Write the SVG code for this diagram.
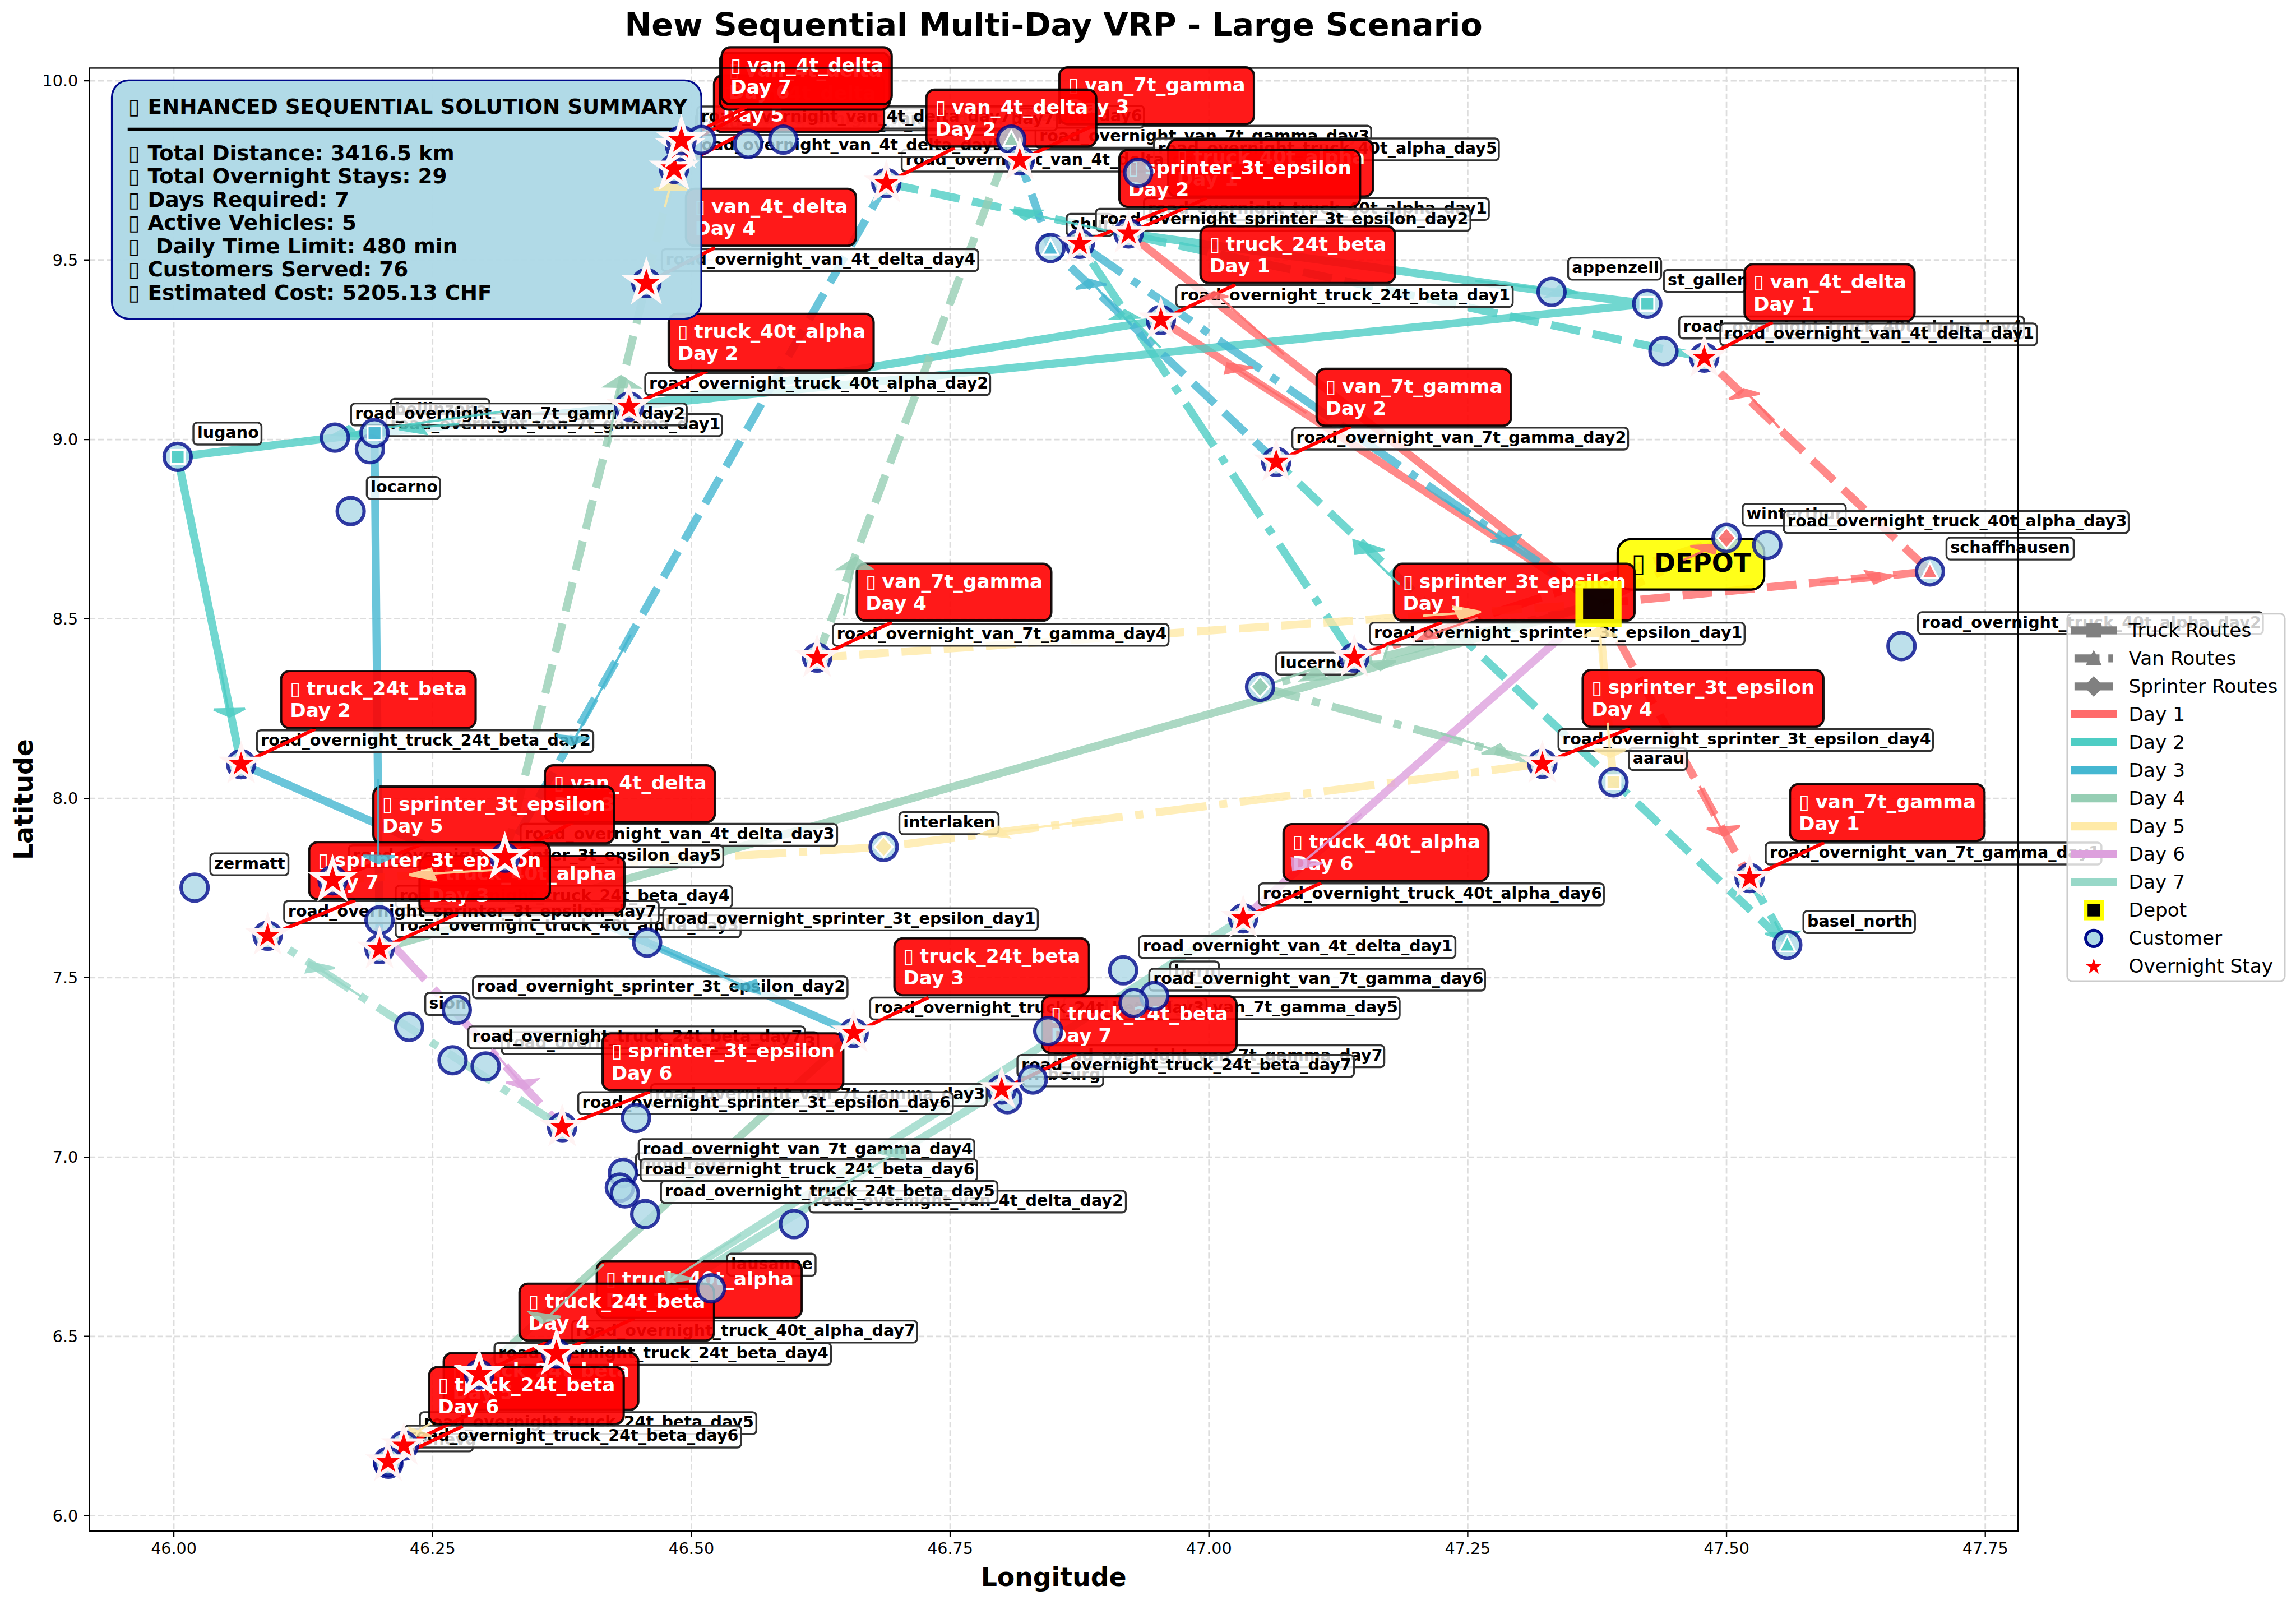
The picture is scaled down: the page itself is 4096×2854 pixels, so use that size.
<svg xmlns="http://www.w3.org/2000/svg" width="4096" height="2854" viewBox="0 0 4096 2854">
<style>
text{font-family:"DejaVu Sans","Liberation Sans",sans-serif}
.lt{font-weight:700;font-size:41.67px;fill:#000}
.lb{fill:#fff;fill-opacity:.8;stroke:#333;stroke-width:5}
.cb{fill:#f00;fill-opacity:.9;stroke:#000;stroke-width:6;stroke-opacity:.9}
.ct{font-weight:700;font-size:50px;fill:#fff}
.lk{stroke:#f00;stroke-width:9;fill:none}
.gr{stroke:#ddd;stroke-width:4;stroke-dasharray:15 7}
.tk{stroke:#000;stroke-width:3.4}
.tl{font-size:41.67px;fill:#000}
.rt{fill:none;stroke-opacity:.8;stroke-width:20.8;stroke-linejoin:round}
.dash{stroke-dasharray:77 33}
.dd{stroke-dasharray:133 33 21 33}
.d1{stroke:#FF6B6B}.d2{stroke:#4ECDC4}.d3{stroke:#45B7D1}.d4{stroke:#96CEB4}.d5{stroke:#FFEAA7}.d6{stroke:#DDA0DD}.d7{stroke:#98D8C8}
.f1{fill:#FF6B6B}.f2{fill:#4ECDC4}.f3{fill:#45B7D1}.f4{fill:#96CEB4}.f5{fill:#FFEAA7}.f6{fill:#DDA0DD}.f7{fill:#98D8C8}
.ar{stroke-width:6;opacity:.85;stroke-linejoin:miter}
.cu{fill:#add8e6;fill-opacity:.8;stroke:#000a8c;stroke-opacity:.8;stroke-width:9}
.mk{stroke:#fff;stroke-width:5;fill-opacity:.9}
.st{fill:#f00;stroke:#fff3f3;stroke-width:18;stroke-miterlimit:5;paint-order:stroke}
.st2{fill:#f00;stroke:#fff8f8;stroke-width:20;stroke-miterlimit:5;paint-order:stroke}
.su{font-weight:700;font-size:54.5px;fill:#000}
.lg{font-size:50px;fill:#000}
</style>
<defs>
<path id="star" class="st" d="M0-33 7.4-10.2 31.4-10.2 12 3.9 19.4 26.7 0 12.6-19.4 26.7-12 3.9-31.4-10.2-7.4-10.2Z"/>
<path id="star2" class="st2" d="M0-37 8.3-11.4 35.2-11.4 13.5 4.4 21.7 29.9 0 14.1-21.7 29.9-13.5 4.4-35.2-11.4-8.3-11.4Z"/>
<rect id="msq" x="-18" y="-18" width="36" height="36"/>
<path id="mtr" d="M0-23 21 17-21 17Z"/>
<path id="mdi" d="M0-27 24 0 0 27-24 0Z"/>
<circle id="cc" r="35" class="cu"/>
</defs>
<g transform="scale(0.68598)">
<rect width="5971" height="4161" fill="#fff"/>
<g id="grid">
<path class="gr" d="M452 177V3981M1125 177V3981M1798 177V3981M2471 177V3981M3144 177V3981M3817 177V3981M4490 177V3981M5163 177V3981M233 210H5248M233 676H5248M233 1143H5248M233 1609H5248M233 2076H5248M233 2542H5248M233 3009H5248M233 3475H5248M233 3941H5248"/>
</g>
<g id="connectors">
<path class="rt d1" d="M2935 607L4157 1570M3019 832L4157 1570"/>
<path class="rt d1 dash" d="M4157 1570L5019 1486L4432 930M4157 1570L4550 2283"/>
<path class="rt d1 dd" d="M4157 1570L4490 1399L3522 1710"/>
<path class="rt d2" d="M2935 607L4035 759L4284 790L1636 1057M3019 832L1636 1057L871 1138L462 1188L627 1987"/>
<path class="rt d2 dash" d="M4550 2283L4648 2457L3319 1201M4432 930L2305 476"/>
<path class="rt d2 dd" d="M3522 1710L2808 634"/>
<path class="rt d3" d="M1636 1057L974 1126L987 2468M627 1987L1683 2451L2220 2686"/>
<path class="rt d3 dash" d="M2305 476L1313 2230M3319 1201L2732 645L2652 417"/>
<path class="rt d3 dd" d="M2808 634L4157 1570"/>
<path class="rt d4" d="M987 2468L4157 1570M2220 2686L1246 3574"/>
<path class="rt d4 dash" d="M1313 2230L1681 736M2652 417L2630 363L2125 1710"/>
<path class="rt d4 dd" d="M4157 1570L3277 1786L4011 1986"/>
<path class="rt d5" d="M4157 1570L4196 2034M1246 3574L1050 3759"/>
<path class="rt d5 dash" d="M2125 1710L4157 1570M1681 736L1753 439"/>
<path class="rt d5 dd" d="M4011 1986L2298 2202L865 2289"/>
<path class="rt d6" d="M4157 1570L3233 2388M1050 3759L1009 3801"/>
<path class="rt d6 dd" d="M865 2289L1462 2931"/>
<path class="rt d6 dash" d="M1753 439L1769 381"/>
<path class="rt d7" d="M1009 3801L2605 2833M3233 2388L1447 3520"/>
<path class="rt d7 dd" d="M1462 2931L696 2433"/>
<path class="rt d7 dash" d="M1769 381L1772 365"/>
</g>
<g id="labels">
<g id="lbl-lugano"><rect class="lb" x="503" y="1099" width="177" height="57" rx="10"/><text class="lt" x="513" y="1139">lugano</text></g>
<g id="lbl-bellinzona"><rect class="lb" x="1016" y="1037" width="257" height="57" rx="10"/><text class="lt" x="1026" y="1077">bellinzona</text></g>
<g id="lbl-locarno"><rect class="lb" x="954" y="1240" width="190" height="57" rx="10"/><text class="lt" x="964" y="1280">locarno</text></g>
<g id="lbl-chur"><rect class="lb" x="2774" y="556" width="120" height="57" rx="10"/><text class="lt" x="2784" y="596">chur</text></g>
<g id="lbl-appenzell"><rect class="lb" x="4078" y="670" width="242" height="57" rx="10"/><text class="lt" x="4088" y="710">appenzell</text></g>
<g id="lbl-st_gallen"><rect class="lb" x="4327" y="702" width="213" height="57" rx="10"/><text class="lt" x="4337" y="742">st_gallen</text></g>
<g id="lbl-schaffhausen"><rect class="lb" x="5062" y="1398" width="331" height="57" rx="10"/><text class="lt" x="5072" y="1438">schaffhausen</text></g>
<g id="lbl-winterthur"><rect class="lb" x="4532" y="1310" width="268" height="57" rx="10"/><text class="lt" x="4542" y="1350">winterthur</text></g>
<g id="lbl-aarau"><rect class="lb" x="4236" y="1945" width="151" height="57" rx="10"/><text class="lt" x="4246" y="1985">aarau</text></g>
<g id="lbl-lucerne"><rect class="lb" x="3319" y="1697" width="211" height="57" rx="10"/><text class="lt" x="3329" y="1737">lucerne</text></g>
<g id="lbl-basel_north"><rect class="lb" x="4690" y="2369" width="290" height="57" rx="10"/><text class="lt" x="4700" y="2409">basel_north</text></g>
<g id="lbl-bern"><rect class="lb" x="3043" y="2500" width="127" height="57" rx="10"/><text class="lt" x="3053" y="2540">bern</text></g>
<g id="lbl-fribourg"><rect class="lb" x="2661" y="2768" width="208" height="57" rx="10"/><text class="lt" x="2671" y="2808">fribourg</text></g>
<g id="lbl-interlaken"><rect class="lb" x="2339" y="2112" width="258" height="57" rx="10"/><text class="lt" x="2349" y="2152">interlaken</text></g>
<g id="lbl-zermatt"><rect class="lb" x="547" y="2219" width="203" height="57" rx="10"/><text class="lt" x="557" y="2259">zermatt</text></g>
<g id="lbl-sion"><rect class="lb" x="1106" y="2582" width="115" height="57" rx="10"/><text class="lt" x="1116" y="2622">sion</text></g>
<g id="lbl-montreux"><rect class="lb" x="1654" y="2999" width="244" height="57" rx="10"/><text class="lt" x="1664" y="3039">montreux</text></g>
<g id="lbl-lausanne"><rect class="lb" x="1891" y="3260" width="230" height="57" rx="10"/><text class="lt" x="1901" y="3300">lausanne</text></g>
<g id="lbl-geneva"><rect class="lb" x="1058" y="3717" width="172" height="57" rx="10"/><text class="lt" x="1068" y="3757">geneva</text></g>
<rect class="lb" x="4367" y="823" width="897" height="57" rx="10"/><text class="lt" x="4377" y="863">road_overnight_truck_40t_alpha_day4</text>
<rect class="lb" x="4639" y="1329" width="897" height="57" rx="10"/><text class="lt" x="4649" y="1369">road_overnight_truck_40t_alpha_day3</text>
<rect class="lb" x="4988" y="1592" width="897" height="57" rx="10"/><text class="lt" x="4998" y="1632">road_overnight_truck_40t_alpha_day2</text>
<rect class="lb" x="1005" y="1077" width="873" height="57" rx="10"/><text class="lt" x="1015" y="1117">road_overnight_van_7t_gamma_day1</text>
<rect class="lb" x="913" y="1049" width="873" height="57" rx="10"/><text class="lt" x="923" y="1089">road_overnight_van_7t_gamma_day2</text>
<rect class="lb" x="4592" y="2191" width="873" height="57" rx="10"/><text class="lt" x="4602" y="2231">road_overnight_van_7t_gamma_day1</text>
<rect class="lb" x="3361" y="1112" width="873" height="57" rx="10"/><text class="lt" x="3371" y="1152">road_overnight_van_7t_gamma_day2</text>
<rect class="lb" x="2693" y="327" width="873" height="57" rx="10"/><text class="lt" x="2703" y="367">road_overnight_van_7t_gamma_day3</text>
<rect class="lb" x="1693" y="2819" width="873" height="57" rx="10"/><text class="lt" x="1703" y="2859">road_overnight_van_7t_gamma_day3</text>
<rect class="lb" x="1661" y="2962" width="873" height="57" rx="10"/><text class="lt" x="1671" y="3002">road_overnight_van_7t_gamma_day4</text>
<rect class="lb" x="2166" y="1622" width="873" height="57" rx="10"/><text class="lt" x="2176" y="1662">road_overnight_van_7t_gamma_day4</text>
<rect class="lb" x="2989" y="2519" width="873" height="57" rx="10"/><text class="lt" x="2999" y="2559">road_overnight_van_7t_gamma_day6</text>
<rect class="lb" x="2767" y="2593" width="873" height="57" rx="10"/><text class="lt" x="2777" y="2633">road_overnight_van_7t_gamma_day5</text>
<rect class="lb" x="2727" y="2718" width="873" height="57" rx="10"/><text class="lt" x="2737" y="2758">road_overnight_van_7t_gamma_day7</text>
<rect class="lb" x="2975" y="515" width="897" height="57" rx="10"/><text class="lt" x="2985" y="555">road_overnight_truck_40t_alpha_day1</text>
<rect class="lb" x="1678" y="970" width="897" height="57" rx="10"/><text class="lt" x="1688" y="1010">road_overnight_truck_40t_alpha_day2</text>
<rect class="lb" x="1029" y="2380" width="897" height="57" rx="10"/><text class="lt" x="1039" y="2420">road_overnight_truck_40t_alpha_day3</text>
<rect class="lb" x="3001" y="360" width="897" height="57" rx="10"/><text class="lt" x="3011" y="400">road_overnight_truck_40t_alpha_day5</text>
<rect class="lb" x="3274" y="2297" width="897" height="57" rx="10"/><text class="lt" x="3284" y="2337">road_overnight_truck_40t_alpha_day6</text>
<rect class="lb" x="1488" y="3434" width="897" height="57" rx="10"/><text class="lt" x="1498" y="3474">road_overnight_truck_40t_alpha_day7</text>
<rect class="lb" x="2078" y="275" width="897" height="57" rx="10"/><text class="lt" x="2088" y="315">road_overnight_truck_40t_alpha_day6</text>
<rect class="lb" x="4474" y="841" width="823" height="57" rx="10"/><text class="lt" x="4484" y="881">road_overnight_van_4t_delta_day1</text>
<rect class="lb" x="2962" y="2434" width="823" height="57" rx="10"/><text class="lt" x="2972" y="2474">road_overnight_van_4t_delta_day1</text>
<rect class="lb" x="2345" y="389" width="823" height="57" rx="10"/><text class="lt" x="2355" y="429">road_overnight_van_4t_delta_day2</text>
<rect class="lb" x="2105" y="3096" width="823" height="57" rx="10"/><text class="lt" x="2115" y="3136">road_overnight_van_4t_delta_day2</text>
<rect class="lb" x="1354" y="2142" width="823" height="57" rx="10"/><text class="lt" x="1364" y="2182">road_overnight_van_4t_delta_day3</text>
<rect class="lb" x="1305" y="2684" width="823" height="57" rx="10"/><text class="lt" x="1315" y="2724">road_overnight_van_4t_delta_day3</text>
<rect class="lb" x="1721" y="648" width="823" height="57" rx="10"/><text class="lt" x="1731" y="688">road_overnight_van_4t_delta_day4</text>
<rect class="lb" x="1794" y="351" width="823" height="57" rx="10"/><text class="lt" x="1804" y="391">road_overnight_van_4t_delta_day5</text>
<rect class="lb" x="1810" y="294" width="823" height="57" rx="10"/><text class="lt" x="1820" y="334">road_overnight_van_4t_delta_day6</text>
<rect class="lb" x="1926" y="282" width="823" height="57" rx="10"/><text class="lt" x="1936" y="322">road_overnight_van_4t_delta_day7</text>
<rect class="lb" x="1813" y="277" width="823" height="57" rx="10"/><text class="lt" x="1823" y="317">road_overnight_van_4t_delta_day7</text>
<rect class="lb" x="3059" y="741" width="875" height="57" rx="10"/><text class="lt" x="3069" y="781">road_overnight_truck_24t_beta_day1</text>
<rect class="lb" x="668" y="1899" width="875" height="57" rx="10"/><text class="lt" x="678" y="1939">road_overnight_truck_24t_beta_day2</text>
<rect class="lb" x="2263" y="2594" width="875" height="57" rx="10"/><text class="lt" x="2273" y="2634">road_overnight_truck_24t_beta_day3</text>
<rect class="lb" x="1029" y="2303" width="875" height="57" rx="10"/><text class="lt" x="1039" y="2343">road_overnight_truck_24t_beta_day4</text>
<rect class="lb" x="1286" y="3492" width="875" height="57" rx="10"/><text class="lt" x="1296" y="3532">road_overnight_truck_24t_beta_day4</text>
<rect class="lb" x="1719" y="3071" width="875" height="57" rx="10"/><text class="lt" x="1729" y="3111">road_overnight_truck_24t_beta_day5</text>
<rect class="lb" x="1092" y="3672" width="875" height="57" rx="10"/><text class="lt" x="1102" y="3712">road_overnight_truck_24t_beta_day5</text>
<rect class="lb" x="1666" y="3014" width="875" height="57" rx="10"/><text class="lt" x="1676" y="3054">road_overnight_truck_24t_beta_day6</text>
<rect class="lb" x="1052" y="3707" width="875" height="57" rx="10"/><text class="lt" x="1062" y="3747">road_overnight_truck_24t_beta_day6</text>
<rect class="lb" x="1218" y="2669" width="875" height="57" rx="10"/><text class="lt" x="1228" y="2709">road_overnight_truck_24t_beta_day7</text>
<rect class="lb" x="2646" y="2743" width="875" height="57" rx="10"/><text class="lt" x="2656" y="2783">road_overnight_truck_24t_beta_day7</text>
<rect class="lb" x="3563" y="1619" width="974" height="57" rx="10"/><text class="lt" x="3573" y="1659">road_overnight_sprinter_3t_epsilon_day1</text>
<rect class="lb" x="1725" y="2362" width="974" height="57" rx="10"/><text class="lt" x="1735" y="2402">road_overnight_sprinter_3t_epsilon_day1</text>
<rect class="lb" x="2850" y="543" width="974" height="57" rx="10"/><text class="lt" x="2860" y="583">road_overnight_sprinter_3t_epsilon_day2</text>
<rect class="lb" x="1230" y="2539" width="974" height="57" rx="10"/><text class="lt" x="1240" y="2579">road_overnight_sprinter_3t_epsilon_day2</text>
<rect class="lb" x="4053" y="1896" width="974" height="57" rx="10"/><text class="lt" x="4063" y="1936">road_overnight_sprinter_3t_epsilon_day4</text>
<rect class="lb" x="907" y="2198" width="974" height="57" rx="10"/><text class="lt" x="917" y="2238">road_overnight_sprinter_3t_epsilon_day5</text>
<rect class="lb" x="1504" y="2840" width="974" height="57" rx="10"/><text class="lt" x="1514" y="2880">road_overnight_sprinter_3t_epsilon_day6</text>
<rect class="lb" x="739" y="2343" width="974" height="57" rx="10"/><text class="lt" x="749" y="2383">road_overnight_sprinter_3t_epsilon_day7</text>
</g>
<g id="callouts">
<g id="depot-label"><rect x="4207" y="1402" width="381" height="131" rx="34" fill="#ff0" fill-opacity=".9" stroke="#000" stroke-width="6"/><text x="4243" y="1487" font-weight="700" font-size="66.7">▯ <tspan dx="-1">DEPOT</tspan></text></g>
<g id="t40-d1"><path class="lk" d="M2935 607L3138 515"/><rect class="cb" x="3038" y="363" width="533" height="148" rx="22"/><text class="ct" x="3061" y="426">▯ <tspan dx="-2">truck_40t_alpha</tspan><tspan x="3061" y="483">Day 1</tspan></text></g>
<g id="t40-d2"><path class="lk" d="M1636 1057L1839 965"/><rect class="cb" x="1739" y="816" width="533" height="148" rx="22"/><text class="ct" x="1762" y="879">▯ <tspan dx="-2">truck_40t_alpha</tspan><tspan x="1762" y="936">Day 2</tspan></text></g>
<g id="t40-d3"><path class="lk" d="M987 2468L1190 2376"/><rect class="cb" x="1091" y="2226" width="533" height="148" rx="22"/><text class="ct" x="1114" y="2289">▯ <tspan dx="-2">truck_40t_alpha</tspan><tspan x="1114" y="2346">Day 3</tspan></text></g>
<g id="t40-d6"><path class="lk" d="M3233 2388L3436 2296"/><rect class="cb" x="3338" y="2143" width="533" height="148" rx="22"/><text class="ct" x="3361" y="2206">▯ <tspan dx="-2">truck_40t_alpha</tspan><tspan x="3361" y="2263">Day 6</tspan></text></g>
<g id="t40-d7"><path class="lk" d="M1447 3520L1650 3428"/><rect class="cb" x="1552" y="3279" width="533" height="148" rx="22"/><text class="ct" x="1575" y="3342">▯ <tspan dx="-2">truck_40t_alpha</tspan><tspan x="1575" y="3399">Day 7</tspan></text></g>
<g id="t24-d1"><path class="lk" d="M3019 832L3213 740"/><rect class="cb" x="3122" y="588" width="506" height="148" rx="22"/><text class="ct" x="3145" y="651">▯ <tspan dx="-2">truck_24t_beta</tspan><tspan x="3145" y="708">Day 1</tspan></text></g>
<g id="t24-d2"><path class="lk" d="M627 1987L821 1895"/><rect class="cb" x="731" y="1745" width="506" height="148" rx="22"/><text class="ct" x="754" y="1808">▯ <tspan dx="-2">truck_24t_beta</tspan><tspan x="754" y="1865">Day 2</tspan></text></g>
<g id="t24-d3"><path class="lk" d="M2220 2686L2414 2594"/><rect class="cb" x="2326" y="2440" width="506" height="148" rx="22"/><text class="ct" x="2349" y="2503">▯ <tspan dx="-2">truck_24t_beta</tspan><tspan x="2349" y="2560">Day 3</tspan></text></g>
<g id="t24-d4"><path class="lk" d="M1246 3574L1440 3482"/><rect class="cb" x="1351" y="3338" width="506" height="148" rx="22"/><text class="ct" x="1374" y="3401">▯ <tspan dx="-2">truck_24t_beta</tspan><tspan x="1374" y="3458">Day 4</tspan></text></g>
<g id="t24-d5"><path class="lk" d="M1050 3759L1244 3667"/><rect class="cb" x="1154" y="3518" width="506" height="148" rx="22"/><text class="ct" x="1177" y="3581">▯ <tspan dx="-2">truck_24t_beta</tspan><tspan x="1177" y="3638">Day 5</tspan></text></g>
<g id="t24-d6"><path class="lk" d="M1009 3801L1203 3709"/><rect class="cb" x="1116" y="3555" width="506" height="148" rx="22"/><text class="ct" x="1139" y="3618">▯ <tspan dx="-2">truck_24t_beta</tspan><tspan x="1139" y="3675">Day 6</tspan></text></g>
<g id="t24-d7"><path class="lk" d="M2605 2833L2799 2741"/><rect class="cb" x="2710" y="2590" width="506" height="148" rx="22"/><text class="ct" x="2733" y="2653">▯ <tspan dx="-2">truck_24t_beta</tspan><tspan x="2733" y="2710">Day 7</tspan></text></g>
<g id="van7-d1"><path class="lk" d="M4550 2283L4744 2191"/><rect class="cb" x="4655" y="2039" width="506" height="148" rx="22"/><text class="ct" x="4678" y="2102">▯ <tspan dx="-2">van_7t_gamma</tspan><tspan x="4678" y="2159">Day 1</tspan></text></g>
<g id="van7-d2"><path class="lk" d="M3319 1201L3513 1109"/><rect class="cb" x="3424" y="959" width="506" height="148" rx="22"/><text class="ct" x="3447" y="1022">▯ <tspan dx="-2">van_7t_gamma</tspan><tspan x="3447" y="1079">Day 2</tspan></text></g>
<g id="van7-d3"><path class="lk" d="M2652 417L2846 325"/><rect class="cb" x="2755" y="175" width="506" height="148" rx="22"/><text class="ct" x="2778" y="238">▯ <tspan dx="-2">van_7t_gamma</tspan><tspan x="2778" y="295">Day 3</tspan></text></g>
<g id="van7-d4"><path class="lk" d="M2125 1710L2319 1618"/><rect class="cb" x="2228" y="1466" width="506" height="148" rx="22"/><text class="ct" x="2251" y="1529">▯ <tspan dx="-2">van_7t_gamma</tspan><tspan x="2251" y="1586">Day 4</tspan></text></g>
<g id="van4-d1"><path class="lk" d="M4432 930L4610 838"/><rect class="cb" x="4537" y="687" width="442" height="148" rx="22"/><text class="ct" x="4560" y="750">▯ <tspan dx="-2">van_4t_delta</tspan><tspan x="4560" y="807">Day 1</tspan></text></g>
<g id="van4-d2"><path class="lk" d="M2305 476L2483 384"/><rect class="cb" x="2409" y="233" width="442" height="148" rx="22"/><text class="ct" x="2432" y="296">▯ <tspan dx="-2">van_4t_delta</tspan><tspan x="2432" y="353">Day 2</tspan></text></g>
<g id="van4-d3"><path class="lk" d="M1313 2230L1491 2138"/><rect class="cb" x="1417" y="1990" width="442" height="148" rx="22"/><text class="ct" x="1440" y="2053">▯ <tspan dx="-2">van_4t_delta</tspan><tspan x="1440" y="2110">Day 3</tspan></text></g>
<g id="van4-d4"><path class="lk" d="M1681 736L1859 644"/><rect class="cb" x="1784" y="491" width="442" height="148" rx="22"/><text class="ct" x="1807" y="554">▯ <tspan dx="-2">van_4t_delta</tspan><tspan x="1807" y="611">Day 4</tspan></text></g>
<g id="van4-d5"><path class="lk" d="M1753 439L1931 347"/><rect class="cb" x="1857" y="196" width="442" height="148" rx="22"/><text class="ct" x="1880" y="259">▯ <tspan dx="-2">van_4t_delta</tspan><tspan x="1880" y="316">Day 5</tspan></text></g>
<g id="van4-d6"><path class="lk" d="M1769 381L1947 289"/><rect class="cb" x="1872" y="137" width="442" height="148" rx="22"/><text class="ct" x="1895" y="200">▯ <tspan dx="-2">van_4t_delta</tspan><tspan x="1895" y="257">Day 6</tspan></text></g>
<g id="van4-d7"><path class="lk" d="M1772 365L1950 273"/><rect class="cb" x="1877" y="123" width="442" height="148" rx="22"/><text class="ct" x="1900" y="186">▯ <tspan dx="-2">van_4t_delta</tspan><tspan x="1900" y="243">Day 7</tspan></text></g>
<g id="sp-d1"><path class="lk" d="M3522 1710L3750 1618"/><rect class="cb" x="3625" y="1466" width="626" height="148" rx="22"/><text class="ct" x="3648" y="1529">▯ <tspan dx="-2">sprinter_3t_epsilon</tspan><tspan x="3648" y="1586">Day 1</tspan></text></g>
<g id="sp-d2"><path class="lk" d="M2808 634L3036 542"/><rect class="cb" x="2911" y="390" width="626" height="148" rx="22"/><text class="ct" x="2934" y="453">▯ <tspan dx="-2">sprinter_3t_epsilon</tspan><tspan x="2934" y="510">Day 2</tspan></text></g>
<g id="sp-d4"><path class="lk" d="M4011 1986L4239 1894"/><rect class="cb" x="4116" y="1742" width="626" height="148" rx="22"/><text class="ct" x="4139" y="1805">▯ <tspan dx="-2">sprinter_3t_epsilon</tspan><tspan x="4139" y="1862">Day 4</tspan></text></g>
<g id="sp-d5"><path class="lk" d="M865 2289L1093 2197"/><rect class="cb" x="971" y="2045" width="626" height="148" rx="22"/><text class="ct" x="994" y="2108">▯ <tspan dx="-2">sprinter_3t_epsilon</tspan><tspan x="994" y="2165">Day 5</tspan></text></g>
<g id="sp-d6"><path class="lk" d="M1462 2931L1690 2839"/><rect class="cb" x="1567" y="2687" width="626" height="148" rx="22"/><text class="ct" x="1590" y="2750">▯ <tspan dx="-2">sprinter_3t_epsilon</tspan><tspan x="1590" y="2807">Day 6</tspan></text></g>
<g id="sp-d7"><path class="lk" d="M696 2433L924 2341"/><rect class="cb" x="804" y="2190" width="626" height="148" rx="22"/><text class="ct" x="827" y="2253">▯ <tspan dx="-2">sprinter_3t_epsilon</tspan><tspan x="827" y="2310">Day 7</tspan></text></g>
</g>
<g id="summary">
<rect x="291" y="209" width="1533" height="620" rx="44" fill="#add8e6" fill-opacity=".95" stroke="#000a8c" stroke-width="5"/>
<text class="su" x="334" y="296">▯ <tspan dx="1">ENHANCED SEQUENTIAL SOLUTION SUMMARY</tspan></text>
<rect x="332" y="332" width="1447" height="9" fill="#000"/>
<text class="su" x="334" y="417">▯ <tspan dx="1">Total Distance: 3416.5 km</tspan></text>
<text class="su" x="334" y="477">▯ <tspan dx="1">Total Overnight Stays: 29</tspan></text>
<text class="su" x="334" y="538">▯ <tspan dx="1">Days Required: 7</tspan></text>
<text class="su" x="334" y="598">▯ <tspan dx="1">Active Vehicles: 5</tspan></text>
<text class="su" x="334" y="659">▯ <tspan dx="22">Daily Time Limit: 480 min</tspan></text>
<text class="su" x="334" y="719">▯ <tspan dx="1">Customers Served: 76</tspan></text>
<text class="su" x="334" y="780">▯ <tspan dx="1">Estimated Cost: 5205.13 CHF</tspan></text>
</g>
<g id="arrows">
<path class="ar d2 f2" d="M571 1724L597 1863M556 1845L597 1863L637 1843Z"/>
<path class="ar d3 f3" d="M984 2026L984 2245M944 2225L984 2245L1027 2226Z"/>
<path class="ar d3 f3" d="M1640 1651L1486 1937M1446 1912L1486 1937L1532 1919Z"/>
<path class="ar d2 f2" d="M1309 1070L867 1131M907 1108L867 1131L938 1135Z"/>
<path class="ar d2 f2" d="M1193 1102L1037 1116M1090 1102L1037 1116L1108 1128Z"/>
<path class="ar d4 f4" d="M1581 1160L1615 978M1573 1005L1615 978L1660 1007Z"/>
<path class="ar d4 f4" d="M2195 1600L2225 1450M2180 1480L2225 1450L2265 1478Z"/>
<path class="ar d1 f1" d="M3397 1074L3192 945M3186 971L3192 945L3258 956Z"/>
<path class="ar d1 f1" d="M3339 922L3157 759M3120 779L3157 759L3194 772Z"/>
<path class="ar d2 f2" d="M2877 599L2633 547M2707 548L2633 547L2666 571Z"/>
<path class="ar d3 f3" d="M2943 846L2832 727M2798 751L2832 727L2877 740Z"/>
<path class="ar d2 f2" d="M3018 904L2925 807M2890 829L2925 807L2960 826Z"/>
<path class="ar d2 f2" d="M3837 730L4098 761M4023 771L4098 761L4057 743Z"/>
<path class="ar d1 f1" d="M4628 1113L4534 1012M4497 1038L4534 1012L4576 1024Z"/>
<path class="ar d1 f1" d="M4732 1513L4924 1497M4852 1486L4924 1497L4874 1517Z"/>
<path class="ar d1 f1" d="M4377 1457L4465 1417M4396 1420L4465 1417L4459 1439Z"/>
<path class="ar d3 f3" d="M3757 1300L3934 1420M3877 1407L3934 1420L3954 1392Z"/>
<path class="ar d5 f5" d="M3700 1601L3851 1591M3781 1578L3851 1591L3796 1609Z"/>
<path class="ar d1 f1" d="M3844 1606L3690 1662M3715 1640L3690 1662L3735 1658Z"/>
<path class="ar d4 f4" d="M3276 1788L3422 1737M3384 1769L3422 1737L3451 1765Z"/>
<path class="ar d4 f4" d="M3610 1677L3590 1742M3558 1721L3590 1742L3630 1719Z"/>
<path class="ar d4 f4" d="M3747 1907L3925 1962M3853 1960L3925 1962L3901 1936Z"/>
<path class="ar d5 f5" d="M4181 1879L4188 1968M4147 1950L4188 1968L4228 1950Z"/>
<path class="ar d5 f5" d="M4166 1739L4161 1630M4121 1654L4161 1630L4204 1653Z"/>
<path class="ar d1 f1" d="M4420 2044L4485 2173M4439 2155L4485 2173L4525 2148Z"/>
<path class="ar d2 f2" d="M4615 2396L4642 2446M4591 2428L4642 2446L4676 2423Z"/>
<path class="ar d6 f6" d="M3541 2117L3363 2262M3360 2232L3363 2262L3438 2245Z"/>
<path class="ar d2 f2" d="M3640 1520L3520 1405M3525 1440L3520 1405L3600 1430Z"/>
<path class="ar d7 f7" d="M939 2591L805 2503M796 2528L805 2503L871 2517Z"/>
<path class="ar d6 f6" d="M1279 2728L1368 2832M1317 2815L1368 2832L1397 2807Z"/>
<path class="ar d3 f3" d="M1689 2454L1975 2582M1908 2567L1975 2582L1966 2549Z"/>
<path class="ar d5 f5" d="M1305 2261L1064 2275M1121 2259L1064 2275L1133 2288Z"/>
<path class="ar d5 f5" d="M2864 2131L2552 2169M2597 2150L2552 2169L2623 2177Z"/>
<path class="ar d7 f7" d="M2076 3151L2351 2985M2284 2997L2351 2985L2354 3013Z"/>
<path class="ar d7 f7" d="M1927 3211L1735 3335M1730 3309L1735 3335L1802 3325Z"/>
<path class="ar d4 f4" d="M1570 3287L1409 3440M1378 3413L1409 3440L1458 3424Z"/>
<path class="ar d5 f5" d="M1119 3702L1070 3732M1065 3714L1070 3732L1123 3734Z"/>
<path class="ar d5 f5" d="M1729 539L1745 477M1700 493L1745 477L1787 493Z"/>
</g>
<g id="customers">
<g id="c-lugano"><use href="#cc" x="462" y="1188"/><use href="#msq" class="mk f2" x="462" y="1188"/></g>
<g id="c-2"><use href="#cc" x="871" y="1138"/></g>
<g id="c-locarno-a"><use href="#cc" x="962" y="1168"/></g>
<g id="c-bellinzona"><use href="#cc" x="974" y="1126"/><use href="#msq" class="mk f3" x="974" y="1126"/></g>
<g id="c-locarno"><use href="#cc" x="912" y="1329"/></g>
<g id="c-6"><use href="#cc" x="1824" y="364"/></g>
<g id="c-7"><use href="#cc" x="1946" y="374"/></g>
<g id="c-8"><use href="#cc" x="2037" y="363"/></g>
<g id="c-9"><use href="#cc" x="2630" y="363"/><use href="#mtr" class="mk f4" x="2630" y="363"/></g>
<g id="c-chur"><use href="#cc" x="2732" y="645"/><use href="#mtr" class="mk f3" x="2732" y="645"/></g>
<g id="c-11"><use href="#cc" x="2960" y="449"/></g>
<g id="c-appenzell"><use href="#cc" x="4035" y="759"/></g>
<g id="c-st_gallen"><use href="#cc" x="4284" y="790"/><use href="#msq" class="mk f2" x="4284" y="790"/></g>
<g id="c-14"><use href="#cc" x="4326" y="913"/></g>
<g id="c-schaffhausen"><use href="#cc" x="5019" y="1486"/><use href="#mtr" class="mk f1" x="5019" y="1486"/></g>
<g id="c-winterthur"><use href="#cc" x="4490" y="1399"/><use href="#mdi" class="mk f1" x="4490" y="1399"/></g>
<g id="c-17"><use href="#cc" x="4596" y="1417"/></g>
<g id="c-18"><use href="#cc" x="4945" y="1680"/></g>
<g id="c-aarau"><use href="#cc" x="4196" y="2034"/><use href="#msq" class="mk f5" x="4196" y="2034"/></g>
<g id="c-lucerne"><use href="#cc" x="3277" y="1786"/><use href="#mdi" class="mk f4" x="3277" y="1786"/></g>
<g id="c-basel_north"><use href="#cc" x="4648" y="2457"/><use href="#mtr" class="mk f2" x="4648" y="2457"/></g>
<g id="c-interlaken"><use href="#cc" x="2298" y="2202"/><use href="#mdi" class="mk f5" x="2298" y="2202"/></g>
<g id="c-23"><use href="#cc" x="2921" y="2523"/></g>
<g id="c-bern"><use href="#cc" x="3002" y="2590"/></g>
<g id="c-25"><use href="#cc" x="2948" y="2608"/></g>
<g id="c-26"><use href="#cc" x="2726" y="2681"/></g>
<g id="c-27"><use href="#cc" x="2686" y="2807"/></g>
<g id="c-fribourg"><use href="#cc" x="2620" y="2858"/></g>
<g id="c-29"><use href="#cc" x="1683" y="2451"/></g>
<g id="c-30"><use href="#cc" x="987" y="2393"/></g>
<g id="c-zermatt"><use href="#cc" x="506" y="2308"/></g>
<g id="c-32"><use href="#cc" x="1188" y="2626"/></g>
<g id="c-sion"><use href="#cc" x="1064" y="2670"/></g>
<g id="c-34"><use href="#cc" x="1177" y="2757"/></g>
<g id="c-35"><use href="#cc" x="1263" y="2773"/></g>
<g id="c-36"><use href="#cc" x="1654" y="2907"/></g>
<g id="c-37"><use href="#cc" x="1620" y="3050"/></g>
<g id="c-montreux"><use href="#cc" x="1612" y="3088"/></g>
<g id="c-39"><use href="#cc" x="1625" y="3103"/></g>
<g id="c-40"><use href="#cc" x="1678" y="3157"/></g>
<g id="c-41"><use href="#cc" x="2065" y="3183"/></g>
<g id="c-lausanne"><use href="#cc" x="1849" y="3350"/></g>
<g id="c-geneva"><use href="#cc" x="1010" y="3806"/></g>
</g>
<g id="depot"><rect x="4107" y="1520" width="100" height="100" fill="#000" stroke="#ff0" stroke-width="20" opacity=".92"/></g>
<g id="stays">
<use href="#cc" x="4432" y="930"/><use href="#star" x="4432" y="930"/>
<use href="#cc" x="2305" y="476"/><use href="#star" x="2305" y="476"/>
<use href="#cc" x="1313" y="2230"/><use href="#star2" x="1313" y="2230"/>
<use href="#cc" x="1681" y="736"/><use href="#star2" x="1681" y="736"/>
<use href="#cc" x="1753" y="439"/><use href="#star2" x="1753" y="439"/>
<use href="#cc" x="1769" y="381"/><use href="#star2" x="1769" y="381"/>
<use href="#cc" x="1772" y="365"/><use href="#star2" x="1772" y="365"/>
<use href="#cc" x="4550" y="2283"/><use href="#star" x="4550" y="2283"/>
<use href="#cc" x="3319" y="1201"/><use href="#star" x="3319" y="1201"/>
<use href="#cc" x="2652" y="417"/><use href="#star" x="2652" y="417"/>
<use href="#cc" x="2125" y="1710"/><use href="#star" x="2125" y="1710"/>
<use href="#cc" x="3019" y="832"/><use href="#star" x="3019" y="832"/>
<use href="#cc" x="627" y="1987"/><use href="#star" x="627" y="1987"/>
<use href="#cc" x="2220" y="2686"/><use href="#star" x="2220" y="2686"/>
<use href="#cc" x="1246" y="3574"/><use href="#star2" x="1246" y="3574"/>
<use href="#cc" x="1050" y="3759"/><use href="#star" x="1050" y="3759"/>
<use href="#cc" x="1009" y="3801"/><use href="#star" x="1009" y="3801"/>
<use href="#cc" x="2605" y="2833"/><use href="#star" x="2605" y="2833"/>
<use href="#cc" x="3522" y="1710"/><use href="#star" x="3522" y="1710"/>
<use href="#cc" x="2808" y="634"/><use href="#star" x="2808" y="634"/>
<use href="#cc" x="4011" y="1986"/><use href="#star" x="4011" y="1986"/>
<use href="#cc" x="865" y="2289"/><use href="#star2" x="865" y="2289"/>
<use href="#cc" x="1462" y="2931"/><use href="#star" x="1462" y="2931"/>
<use href="#cc" x="696" y="2433"/><use href="#star" x="696" y="2433"/>
<use href="#cc" x="2935" y="607"/><use href="#star" x="2935" y="607"/>
<use href="#cc" x="1636" y="1057"/><use href="#star" x="1636" y="1057"/>
<use href="#cc" x="987" y="2468"/><use href="#star" x="987" y="2468"/>
<use href="#cc" x="3233" y="2388"/><use href="#star" x="3233" y="2388"/>
<use href="#cc" x="1447" y="3520"/><use href="#star2" x="1447" y="3520"/>
</g>
<g id="axes">
<rect x="233" y="177" width="5015" height="3804" fill="none" stroke="#000" stroke-width="3.4"/>
<path class="tk" d="M452 3981v15M1125 3981v15M1798 3981v15M2471 3981v15M3144 3981v15M3817 3981v15M4490 3981v15M5163 3981v15M233 210h-15M233 676h-15M233 1143h-15M233 1609h-15M233 2076h-15M233 2542h-15M233 3009h-15M233 3475h-15M233 3941h-15"/>
<g class="tl" text-anchor="middle">
<text x="452" y="4041">46.00</text><text x="1125" y="4041">46.25</text><text x="1798" y="4041">46.50</text><text x="2471" y="4041">46.75</text><text x="3144" y="4041">47.00</text><text x="3817" y="4041">47.25</text><text x="4490" y="4041">47.50</text><text x="5163" y="4041">47.75</text>
</g>
<g class="tl" text-anchor="end">
<text x="203" y="225">10.0</text><text x="203" y="691">9.5</text><text x="203" y="1158">9.0</text><text x="203" y="1624">8.5</text><text x="203" y="2091">8.0</text><text x="203" y="2557">7.5</text><text x="203" y="3024">7.0</text><text x="203" y="3490">6.5</text><text x="203" y="3956">6.0</text>
</g>
<text x="2740" y="4124" text-anchor="middle" font-weight="700" font-size="66.7">Longitude</text>
<text transform="translate(84 2079) rotate(-90)" text-anchor="middle" font-weight="700" font-size="66.7">Latitude</text>
<text x="2740" y="93" text-anchor="middle" font-weight="700" font-size="83.3">New Sequential Multi-Day VRP - Large Scenario</text>
</g>
<g id="legend">
<rect x="5376" y="1596" width="566" height="955" rx="12" fill="#fff" fill-opacity=".8" stroke="#ccc" stroke-width="4"/>
<path d="M5386 1639H5505" stroke="#808080" stroke-width="20.8"/><rect x="5426" y="1620" width="38" height="38" fill="#808080"/>
<path d="M5395 1712H5460M5483 1712H5495" stroke="#808080" stroke-width="20.8"/><path d="M5445 1690 5466 1730 5424 1730Z" fill="#808080"/>
<path d="M5395 1785H5495" stroke="#808080" stroke-width="20.8"/><path d="M5445 1758 5471 1785 5445 1812 5419 1785Z" fill="#808080"/>
<path d="M5386 1857H5505" stroke="#FF6B6B" stroke-width="20.8"/>
<path d="M5386 1930H5505" stroke="#4ECDC4" stroke-width="20.8"/>
<path d="M5386 2003H5505" stroke="#45B7D1" stroke-width="20.8"/>
<path d="M5386 2076H5505" stroke="#96CEB4" stroke-width="20.8"/>
<path d="M5386 2149H5505" stroke="#FFEAA7" stroke-width="20.8"/>
<path d="M5386 2221H5505" stroke="#DDA0DD" stroke-width="20.8"/>
<path d="M5386 2294H5505" stroke="#98D8C8" stroke-width="20.8"/>
<rect x="5424" y="2346" width="42" height="42" fill="#000" stroke="#ff0" stroke-width="10"/>
<circle cx="5445" cy="2440" r="21" fill="#add8e6" stroke="#000a8c" stroke-width="8"/>
<path transform="translate(5445 2514)" d="M0-22 5-7 21-7 8 2 13 18 0 8-13 18-8 2-21-7-5-7Z" fill="#f00"/>
<g class="lg">
<text x="5536" y="1656">Truck Routes</text><text x="5536" y="1729">Van Routes</text><text x="5536" y="1802">Sprinter Routes</text><text x="5536" y="1874">Day 1</text><text x="5536" y="1947">Day 2</text><text x="5536" y="2020">Day 3</text><text x="5536" y="2093">Day 4</text><text x="5536" y="2166">Day 5</text><text x="5536" y="2238">Day 6</text><text x="5536" y="2311">Day 7</text><text x="5536" y="2384">Depot</text><text x="5536" y="2457">Customer</text><text x="5536" y="2529">Overnight Stay</text>
</g>
</g>
</g>
</svg>
